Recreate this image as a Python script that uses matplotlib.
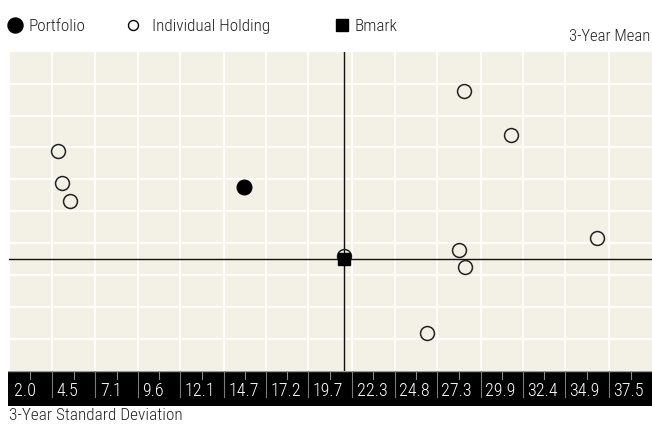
import numpy as np
import matplotlib
matplotlib.use('Agg')
import matplotlib.pyplot as plt
from matplotlib.lines import Line2D

# x axis labels (3-Year Standard Deviation)
tick_labels = ['2.0', '4.5', '7.1', '9.6', '12.1', '14.7', '17.2', '19.7',
               '22.3', '24.8', '27.3', '29.9', '32.4', '34.9', '37.5']
x_max = 40.04

# individual holdings: (std dev, mean)
holding_sd = [4.9, 5.1, 5.6, 21.8, 26.7, 28.6, 29.0, 28.9, 31.7, 36.8]
holding_mean = [3.40, 2.39, 1.81, 0.09, -2.32, 0.28, -0.24, 5.28, 3.90, 0.66]

portfolio_sd = [15.9]
portfolio_mean = [2.27]

bmark_sd = [21.8]
bmark_mean = [0.0]

y_min, y_max = -3.5, 6.5

plt.rcParams['font.family'] = ['Roboto Condensed', 'DejaVu Sans']
plt.rcParams['font.weight'] = 300

W, H = 652, 428
fig = plt.figure(figsize=(W / 100, H / 100), dpi=100)

def fx(px):
    return px / W

def fy(py):
    return 1 - py / H

# main scatter area
ax = fig.add_axes([fx(9.3), fy(370.7), 1 - fx(9.3), fy(51.7) - fy(370.7)])
ax.set_facecolor('#f3f1e6')
xt = [float(t) for t in tick_labels]
ax.set_xlim(xt[0], x_max)
ax.set_ylim(y_min, y_max)
ax.set_xticks(xt)
ax.set_yticks(np.arange(y_min + 1, y_max - 0.5, 1))
ax.tick_params(length=0, labelbottom=False, labelleft=False)
ax.grid(True, color='white', lw=1.3)
for s in ax.spines.values():
    s.set_visible(False)

ax.axhline(bmark_mean[0], color='#111111', lw=1.0, zorder=3)
ax.axvline(bmark_sd[0], color='#111111', lw=1.0, zorder=3)

ax.plot(holding_sd, holding_mean, 'o', ms=10, mfc='none', mec='#222222',
        mew=1.1, zorder=5)
ax.plot(portfolio_sd, portfolio_mean, 'o', ms=10.5, color='black', zorder=6)
ax.plot(bmark_sd, bmark_mean, 's', ms=8.5, color='black', zorder=6)

# black label band
band = fig.add_axes([fx(7.5), fy(405.7), 1 - fx(7.5), fy(370.7) - fy(405.7)])
band.set_facecolor('black')
band.set_xlim(xt[0] - (x_max - xt[0]) * 1.8 / 642.7, x_max)
band.set_ylim(0, 1)
band.set_xticks([])
band.set_yticks([])
for s in band.spines.values():
    s.set_visible(False)
band.axhline(1, color='#9a9a9a', lw=1.0)
for x in xt[1:]:
    band.plot([x, x], [0.24, 1], color='#7a7a7a', lw=0.8)
edges = xt + [x_max]
for a, b in zip(edges[:-1], edges[1:]):
    m = (a + b) / 2
    band.plot([m, m], [0.76, 1], color='#8a8a8a', lw=0.8)
for x, lab in zip(xt, tick_labels):
    band.annotate(lab, (x, 0.42), xytext=(3.2, 0), textcoords='offset points',
                  ha='left', va='center', color='white', fontsize=13)

# legend, drawn by hand
legend_items = [('Portfolio', 'o', 'black', 10.8, 15, 28.3),
                ('Individual Holding', 'o', 'none', 7.2, 132.7, 151.7),
                ('Bmark', 's', 'black', 9.0, 341.5, 354)]
for lab, mk, fc, ms, mx, tx in legend_items:
    fig.add_artist(Line2D([fx(mx)], [fy(25)], marker=mk, ms=ms, mfc=fc,
                          mec='black', mew=1.0, ls='none',
                          transform=fig.transFigure))
    fig.text(fx(tx), fy(31), lab, ha='left', va='baseline', fontsize=12.3,
             color='#222222')

fig.text(fx(650), fy(40.7), '3-Year Mean', ha='right', va='baseline',
         fontsize=12, color='#222222')
fig.text(fx(9.3), fy(420), '3-Year Standard Deviation', ha='left',
         va='baseline', fontsize=12.4, color='#222222')

fig.savefig('out.png', dpi=100, facecolor='white')
